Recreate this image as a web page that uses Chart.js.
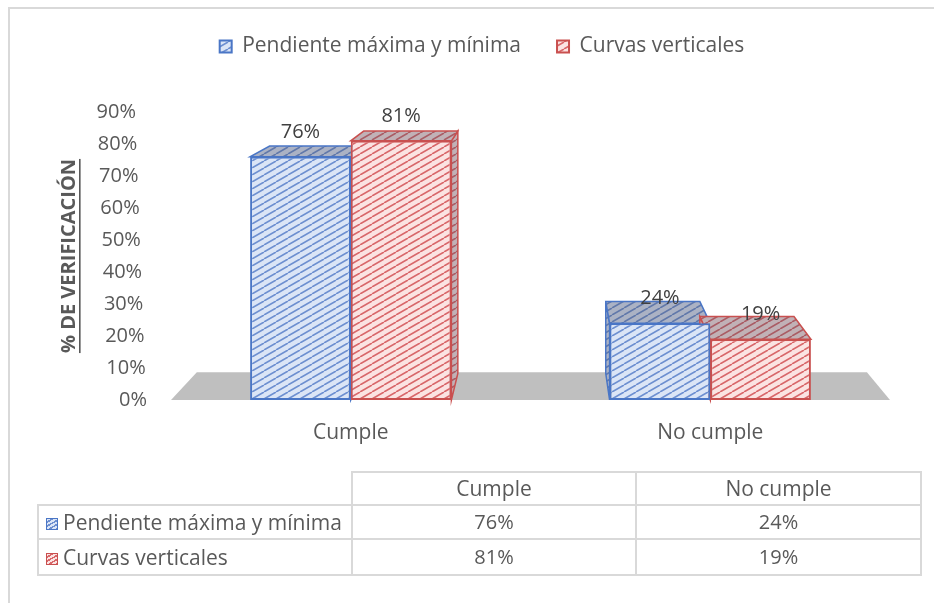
<!DOCTYPE html>
<html>
<head>
<meta charset="utf-8">
<script src="https://cdn.jsdelivr.net/npm/chart.js@4.4.1/dist/chart.umd.min.js"></script>
<style>
  body { margin: 0; background: #fff; overflow: hidden; }
  #wrap { position: relative; width: 934px; height: 603px; overflow: hidden; font-family: 'Open Sans', sans-serif; }
  #frame { position: absolute; left: 8px; top: 7px; width: 1400px; height: 1400px; border: 2px solid #d9d9d9; }
  #chart { position: absolute; left: 0; top: 0; }
  #table { position: absolute; left: 37px; top: 471px; border-collapse: collapse; color: #595959; font-size: 20px; }
  #table td { border: 2px solid #d9d9d9; text-align: center; padding: 0; line-height: 1; }
  #table td.blank { border-top: none; border-left: none; }
  #table td.txt { font-size: 21px; }
  #table td.name { text-align: left; padding-left: 7px; font-size: 21px; white-space: nowrap; }
  .ico { display: inline-block; width: 10px; height: 10px; margin-right: 5px; vertical-align: 0; border: 1px solid; }
  .ico.blue { border-color: #4a76c6; background: repeating-linear-gradient(150deg, #dbe5f6 0 2px, #6d8fd0 2px 3.5px); }
  .ico.red { border-color: #c9504f; background: repeating-linear-gradient(150deg, #fbe3e2 0 2px, #d8676a 2px 3.5px); }
</style>
</head>
<body>
<div id="wrap">
  <div id="frame"></div>
  <canvas id="chart" width="934" height="603"></canvas>
  <table id="table"></table>
</div>
<script>
const categories = ['Cumple', 'No cumple'];
const seriesNames = ['Pendiente máxima y mínima', 'Curvas verticales'];
const pendienteValues = [76, 24];
const curvasValues = [81, 19];
const yTicks = [0, 10, 20, 30, 40, 50, 60, 70, 80, 90];
const axisTitle = '% DE VERIFICACIÓN';

const FONT = "'Open Sans', sans-serif";
const TEXT = '#595959';

// diagonal hatch like the excel pattern fill
function makeHatch(bg, fg) {
    const c = document.createElement('canvas');
    c.width = 12; c.height = 7;
    const g = c.getContext('2d');
    g.fillStyle = bg;
    g.fillRect(0, 0, 12, 7);
    g.strokeStyle = fg;
    g.lineWidth = 1.6;
    g.beginPath();
    for (const dx of [-12, 0, 12]) { g.moveTo(dx, 7); g.lineTo(dx + 12, 0); }
    g.stroke();
    return g.createPattern(c, 'repeat');
}

const bluePattern = makeHatch('#dbe5f6', '#6d8fd0');
const redPattern = makeHatch('#fbe3e2', '#d8676a');

// perspective helper: move a front point back toward the vanishing point
function back(area, x, y, t) {
    const vx = (area.left + area.right) / 2 + 20;
    const vy = area.top - 121;
    return [x + t * (vx - x), y + t * (vy - y)];
}

function poly(ctx, pts, fill, stroke) {
    ctx.beginPath();
    pts.forEach((p, i) => i ? ctx.lineTo(p[0], p[1]) : ctx.moveTo(p[0], p[1]));
    ctx.closePath();
    ctx.fillStyle = fill;
    ctx.fill();
    if (stroke) {
        ctx.fillStyle = 'rgba(70,70,90,0.32)';
        ctx.fill();
        ctx.strokeStyle = stroke;
        ctx.lineWidth = 1.5;
        ctx.stroke();
    }
}

const threeD = {
    id: 'threeD',
    beforeInit(chart) {
        // give the legend a taller box so the plot starts lower
        const fit = chart.legend.fit;
        chart.legend.fit = function () {
            fit.call(this);
            this.height = 112;
        };
    },
    beforeDatasetsDraw(chart) {
        const ctx = chart.ctx;
        const a = chart.chartArea;
        ctx.save();
        // floor
        poly(ctx, [[a.left, a.bottom], [a.right, a.bottom],
            back(a, a.right, a.bottom, 0.068), back(a, a.left, a.bottom, 0.068)], '#bfbfbf');
        // top and side faces, behind the front faces chart.js draws
        const vx = (a.left + a.right) / 2 + 20;
        chart.data.datasets.forEach((ds, di) => {
            chart.getDatasetMeta(di).data.forEach(bar => {
                const { x, y, base, width } = bar.getProps(['x', 'y', 'base', 'width'], true);
                const x1 = x - width / 2, x2 = x + width / 2;
                const t = 0.065;
                if (x2 < vx) {
                    poly(ctx, [[x2, y], [x2, base], back(a, x2, base, t), back(a, x2, y, t)], ds.backgroundColor, ds.borderColor);
                }
                if (x1 > vx) {
                    poly(ctx, [[x1, y], [x1, base], back(a, x1, base, t), back(a, x1, y, t)], ds.backgroundColor, ds.borderColor);
                }
                poly(ctx, [[x1, y], [x2, y], back(a, x2, y, t), back(a, x1, y, t)], ds.backgroundColor, ds.borderColor);
            });
        });
        ctx.restore();
    },
    afterDatasetsDraw(chart) {
        const ctx = chart.ctx;
        ctx.save();
        ctx.font = '20px ' + FONT;
        ctx.fillStyle = '#404040';
        ctx.textAlign = 'center';
        ctx.textBaseline = 'middle';
        chart.data.datasets.forEach((ds, di) => {
            chart.getDatasetMeta(di).data.forEach((bar, i) => {
                ctx.fillText(ds.data[i] + '%', bar.x, bar.y - 25);
            });
        });
        ctx.restore();
    },
    afterDraw(chart) {
        const ctx = chart.ctx;
        const a = chart.chartArea;
        const ys = chart.scales.y;
        ctx.save();
        // slanted tick labels, as in the perspective view
        ctx.font = '20px ' + FONT;
        ctx.fillStyle = TEXT;
        ctx.textAlign = 'right';
        ctx.textBaseline = 'middle';
        yTicks.forEach(v => {
            ctx.fillText(v + '%', a.left - 24 - 11 * v / 90, ys.getPixelForValue(v));
        });
        // underlined bold axis title
        const cy = (a.top + a.bottom) / 2;
        ctx.translate(75, cy);
        ctx.rotate(-Math.PI / 2);
        ctx.font = 'bold 20px ' + FONT;
        ctx.textAlign = 'center';
        ctx.textBaseline = 'alphabetic';
        ctx.fillText(axisTitle, 0, 0);
        const w = ctx.measureText(axisTitle).width;
        ctx.fillRect(-w / 2, 4, w, 1.6);
        ctx.restore();
    }
};

new Chart(document.getElementById('chart'), {
    type: 'bar',
    data: {
        labels: categories,
        datasets: [
            {
                label: seriesNames[0],
                data: pendienteValues,
                backgroundColor: bluePattern,
                borderColor: '#4a76c6',
                borderWidth: 2,
                borderSkipped: false
            },
            {
                label: seriesNames[1],
                data: curvasValues,
                backgroundColor: redPattern,
                borderColor: '#c9504f',
                borderWidth: 2,
                borderSkipped: false
            }
        ]
    },
    options: {
        responsive: false,
        animation: false,
        categoryPercentage: 0.56,
        barPercentage: 1.0,
        layout: { padding: { left: 74, right: 44, top: 0, bottom: 159 } },
        plugins: {
            legend: {
                position: 'top',
                labels: {
                    font: { family: FONT, size: 21 },
                    color: TEXT,
                    boxWidth: 12,
                    boxHeight: 12,
                    padding: 36
                }
            },
            tooltip: { enabled: false }
        },
        scales: {
            x: {
                grid: { display: false, drawTicks: false },
                border: { display: false },
                ticks: { font: { family: FONT, size: 21 }, color: TEXT, padding: 20 },
                afterFit: s => { s.height = 44; }
            },
            y: {
                min: 0,
                max: 90,
                grid: { display: false, drawTicks: false },
                border: { display: false },
                ticks: { display: false },
                afterFit: s => { s.width = 97; }
            }
        }
    },
    plugins: [threeD]
});

// data table under the chart
const table = document.getElementById('table');
const icoClass = ['blue', 'red'];
const rows = [pendienteValues, curvasValues];
let html = '<tr style="height:33px"><td class="blank" style="width:313px"></td>' +
    categories.map((c, i) => '<td class="txt" style="width:' + (i ? 283 : 282) + 'px">' + c + '</td>').join('') + '</tr>';
rows.forEach((vals, r) => {
    html += '<tr style="height:' + (r ? 36 : 34) + 'px"><td class="name"><span class="ico ' + icoClass[r] + '"></span>' +
        seriesNames[r] + '</td>' + vals.map(v => '<td>' + v + '%</td>').join('') + '</tr>';
});
table.innerHTML = html;
</script>
</body>
</html>
